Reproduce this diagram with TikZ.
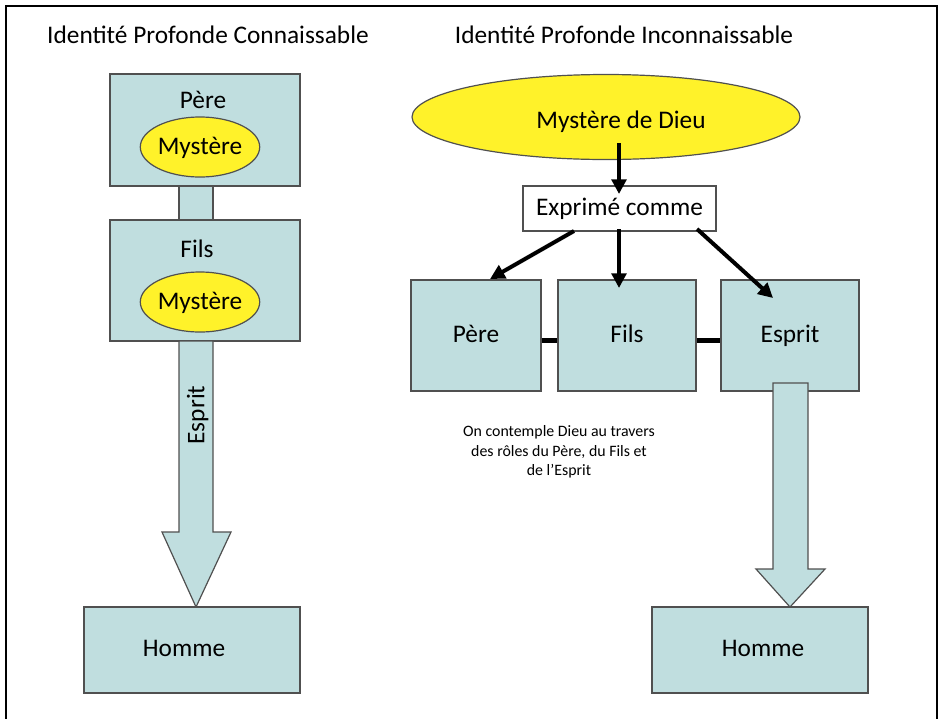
\documentclass[tikz,border=0pt]{standalone}
\usepackage{fontspec}
\setmainfont{Carlito}
\usetikzlibrary{arrows.meta,shapes.geometric}
\definecolor{boxblue}{HTML}{C0DEDF}
\definecolor{boxline}{HTML}{505050}
\definecolor{myyellow}{HTML}{FFF22A}
\begin{document}
\begin{tikzpicture}[x=0.75pt,y=-0.75pt,
  bigfont/.style={font=\fontsize{19}{22}\selectfont,text height=14pt,text depth=3pt},
  bluebox/.style={draw=boxline,line width=0.9pt,fill=boxblue,inner sep=0pt,bigfont},
  yell/.style={ellipse,draw=boxline,line width=0.9pt,fill=myyellow,inner sep=0pt,bigfont},
  lbl/.style={inner sep=0pt,bigfont},
  ttl/.style={font=\fontsize{19}{22}\selectfont,inner sep=0pt},
  arr/.style={line width=3pt,-{Triangle[length=11pt,width=11pt]}},
  bar/.style={line width=3.75pt}]
\useasboundingbox (0,0) rectangle (941,718);
\draw[line width=1.5pt] (6,725) -- (6,6) -- (937,6) -- (937,725);
% titles
\node[ttl] (t1) at (208,35) {Identité Profonde Connaissable};
\node[ttl] (t2) at (624,35) {Identité Profonde Inconnaissable};
% left column
\draw[bluebox] (179,186) rectangle (213,220);
\node[bluebox,minimum width=142.5pt,minimum height=84pt] (pereL) at (205,130) {};
\node[lbl] (pereLt) at (203,101) {Père};
\node[yell,minimum width=84.75pt,minimum height=45pt] (mys1) at (200,147) {Mystère};
\node[bluebox,minimum width=142.5pt,minimum height=90.75pt] (filsL) at (205,280.5) {};
\node[lbl] (filsLt) at (197,250) {Fils};
\node[yell,minimum width=84.75pt,minimum height=45pt] (mys2) at (200,302) {Mystère};
\draw[bluebox] (179,341) -- (213,341) -- (213,532) -- (231,532) -- (196,607) -- (162,532) -- (179,532) -- cycle;
\node[lbl,rotate=90] (espL) at (197,415) {Esprit};
\node[bluebox,minimum width=162pt,minimum height=64.5pt] (hommeL) at (192,650) {};
\node[lbl] (hommeLt) at (184,649) {Homme};
% right column
\node[yell,minimum width=291pt,minimum height=63.75pt] (dieu) at (606,117) {};
\node[lbl] (dieut) at (621,121) {Mystère de Dieu};
\node[draw=boxline,line width=0.9pt,fill=white,minimum width=144.75pt,minimum height=33.75pt,inner sep=0pt,bigfont] (expr) at (619.5,208.5) {Exprimé comme};
\node[bluebox,minimum width=97.5pt,minimum height=83.25pt] (pereR) at (476,335.5) {Père};
\node[bluebox,minimum width=103.5pt,minimum height=83.25pt] (filsR) at (627,335.5) {Fils};
\node[bluebox,minimum width=103.5pt,minimum height=83.25pt] (espR) at (790,335.5) {Esprit};
\draw[bar] (pereR.east |- 0,340) -- (filsR.west |- 0,340);
\draw[bar] (filsR.east |- 0,340) -- (espR.west |- 0,340);
\coordinate (d1) at (619,143);
\coordinate (e0) at (619,194);
\coordinate (e1) at (574,231);
\coordinate (e2) at (619,229);
\coordinate (e3) at (697,229);
\coordinate (p1) at (490,279);
\coordinate (f1) at (619,288);
\coordinate (s1) at (773,298);
\draw[arr] (d1) -- (e0);
\draw[arr] (e1) -- (p1);
\draw[arr] (e2) -- (f1);
\draw[arr] (e3) -- (s1);
\draw[bluebox] (773,383) -- (808,383) -- (808,569) -- (825,569) -- (790,607) -- (756,569) -- (773,569) -- cycle;
\node[bluebox,minimum width=162pt,minimum height=64.5pt] (hommeR) at (760,650) {};
\node[lbl] (hommeRt) at (763,649) {Homme};
\node[align=center,inner sep=0pt,font=\fontsize{11.9}{14.6}\selectfont] (note) at (559,452) {On contemple Dieu au travers\\des rôles du Père, du Fils et\\de l’Esprit};
\end{tikzpicture}
\end{document}
